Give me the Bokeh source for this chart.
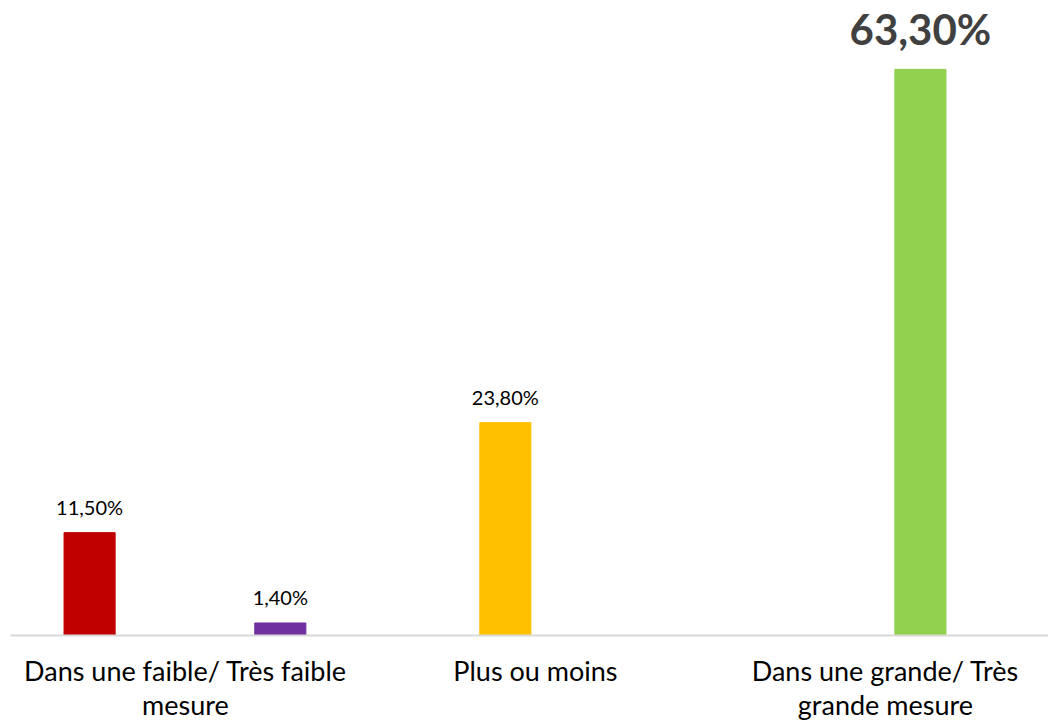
from bokeh.plotting import figure
from bokeh.models import Range1d, FixedTicker, ColumnDataSource, LabelSet
from bokeh.core.properties import value
from bokeh.embed import file_html
from bokeh.resources import INLINE

categories = ["Dans une faible/ Très faible\nmesure", "Plus ou moins", "Dans une grande/ Très\ngrande mesure"]
bar_category = [0, 0, 1, 2]
values = [11.5, 1.4, 23.8, 63.3]
labels = ["11,50%", "1,40%", "23,80%", "63,30%"]
colors = ["#C00000", "#7030A0", "#FFC000", "#92D050"]

# layout (positions within category slot)
offsets = [-0.274, 0.271, -0.086, 0.1]
bar_width = 0.146

xs = [c + 0.5 + o for c, o in zip(bar_category, offsets)]

p = figure(width=1048, height=724, output_backend="svg", toolbar_location=None,
           x_range=Range1d(0, 2.966), y_range=Range1d(0, 71.0),
           y_axis_location=None, min_border_left=10, min_border_right=0,
           min_border_top=0, min_border_bottom=89)
p.outline_line_color = None
p.xgrid.visible = False
p.ygrid.visible = False

src = ColumnDataSource(dict(x=xs, top=values, color=colors, label=labels))
p.vbar(x="x", top="top", width=bar_width, color="color", source=src)

small = ColumnDataSource(dict(x=xs[:3], y=values[:3], label=labels[:3]))
big = ColumnDataSource(dict(x=xs[3:], y=values[3:], label=labels[3:]))
p.add_layout(LabelSet(x="x", y="y", text="label", source=small, text_align="center",
                      text_baseline="alphabetic", y_offset=18, text_font=value("Lato"),
                      text_font_size=value("20px"), text_color="#000000"))
p.add_layout(LabelSet(x="x", y="y", text="label", source=big, text_align="center",
                      text_baseline="alphabetic", y_offset=24, text_font=value("Lato"),
                      text_font_size=value("42px"), text_font_style="bold", text_color="#404040"))

ax = p.xaxis[0]
ax.ticker = FixedTicker(ticks=[0.5, 1.5, 2.5])
ax.major_label_overrides = {i + 0.5: c for i, c in enumerate(categories)}
ax.major_tick_line_color = None
ax.minor_tick_line_color = None
ax.axis_line_color = "#D9D9D9"
ax.axis_line_width = 2
ax.major_label_text_font = "Lato"
ax.major_label_text_font_size = "27px"
ax.major_label_text_color = "#000000"
ax.major_label_standoff = 12
ax.major_label_text_line_height = 1.05

open("out.html", "w").write(file_html(p, INLINE))
